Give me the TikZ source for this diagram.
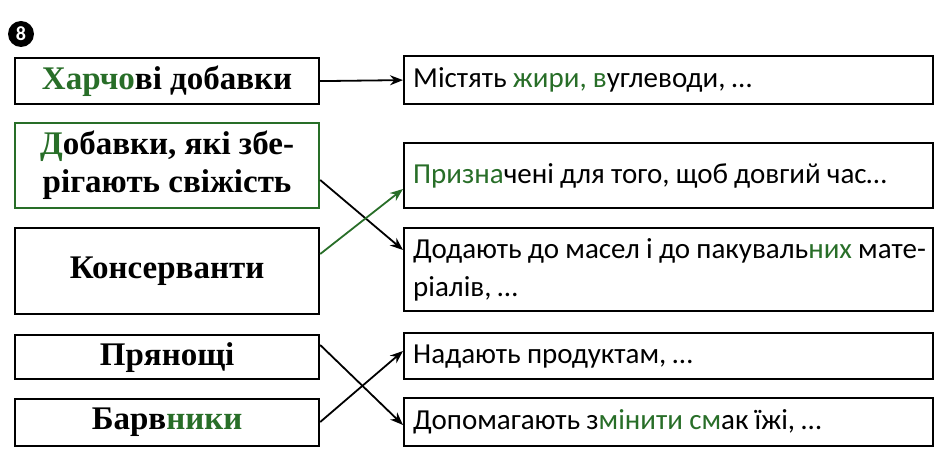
\documentclass[tikz,border=0pt]{standalone}
\usepackage{fontspec}
\setmainfont{Liberation Serif}
\newfontfamily\rsans[WordSpace=0.95]{Carlito}
\usetikzlibrary{arrows.meta}
\definecolor{gr}{RGB}{40,110,40}
\begin{document}
\begin{tikzpicture}[x=1pt,y=-1pt,
  lbox/.style={draw,line width=2.2pt,minimum width=304pt,inner sep=0pt,font=\bfseries\fontsize{33}{38}\selectfont,align=center,anchor=north west},
  rbox/.style={draw,line width=2.2pt,minimum width=529pt,inner sep=0pt,anchor=north west},
  rtext/.style={inner sep=0pt,anchor=west,align=left,font=\rsans\fontsize{29}{38}\selectfont},
  arr/.style={line width=1.8pt,-{Stealth[length=13pt,width=10pt]}}]
\useasboundingbox (0,0) rectangle (944,462);
\node[circle,fill=black,text=white,inner sep=0pt,minimum size=26pt,font=\rsans\bfseries\fontsize{20}{20}\selectfont] (num) at (21,34) {8};
\node[lbox,minimum height=46pt] (l1) at (14,57) {\textcolor{gr}{Харчо}ві добавки};
\node[lbox,minimum height=85pt,draw=gr] (l2) at (14,122) {\textcolor{gr}{Д}обавки, які збе-\\рігають свіжість};
\node[lbox,minimum height=86pt] (l3) at (14,227) {Консерванти};
\node[lbox,minimum height=44pt] (l4) at (14,334) {Прянощі};
\node[lbox,minimum height=47pt] (l5) at (14,398) {Барв\textcolor{gr}{ники}};
\node[rbox,minimum height=48pt] (r1) at (403,55) {};
\node[rbox,minimum height=65pt] (r2) at (403,142) {};
\node[rbox,minimum height=83pt] (r3) at (403,227) {};
\node[rbox,minimum height=46pt] (r4) at (403,332) {};
\node[rbox,minimum height=48pt] (r5) at (403,397) {};
\node[rtext] (t1) at ([xshift=10pt]r1.west) {Містять \textcolor{gr}{жири, в}углеводи, \dots};
\node[rtext] (t2) at ([xshift=10pt]r2.west) {\textcolor{gr}{Призна}чені для того, щоб довгий час\dots};
\node[rtext] (t3) at ([xshift=10pt]r3.west) {Додають до масел і до пакуваль\textcolor{gr}{них} мате-\\ріалів, \dots};
\node[rtext] (t4) at ([xshift=10pt]r4.west) {Надають продуктам, \dots};
\node[rtext] (t5) at ([xshift=10pt]r5.west) {Допомагають з\textcolor{gr}{мінити} \textcolor{gr}{см}ак їжі, \dots};
\draw[arr] (l1.east) -- (r1.west);
\draw[arr] (l2.east|-0,180) -- (r3.west|-0,250);
\draw[arr,color=gr] (l3.east|-0,254) -- (r2.west|-0,189);
\draw[arr] (l4.east|-0,345) -- (r5.west|-0,425);
\draw[arr] (l5.east|-0,422) -- (r4.west|-0,351);
\end{tikzpicture}
\end{document}
